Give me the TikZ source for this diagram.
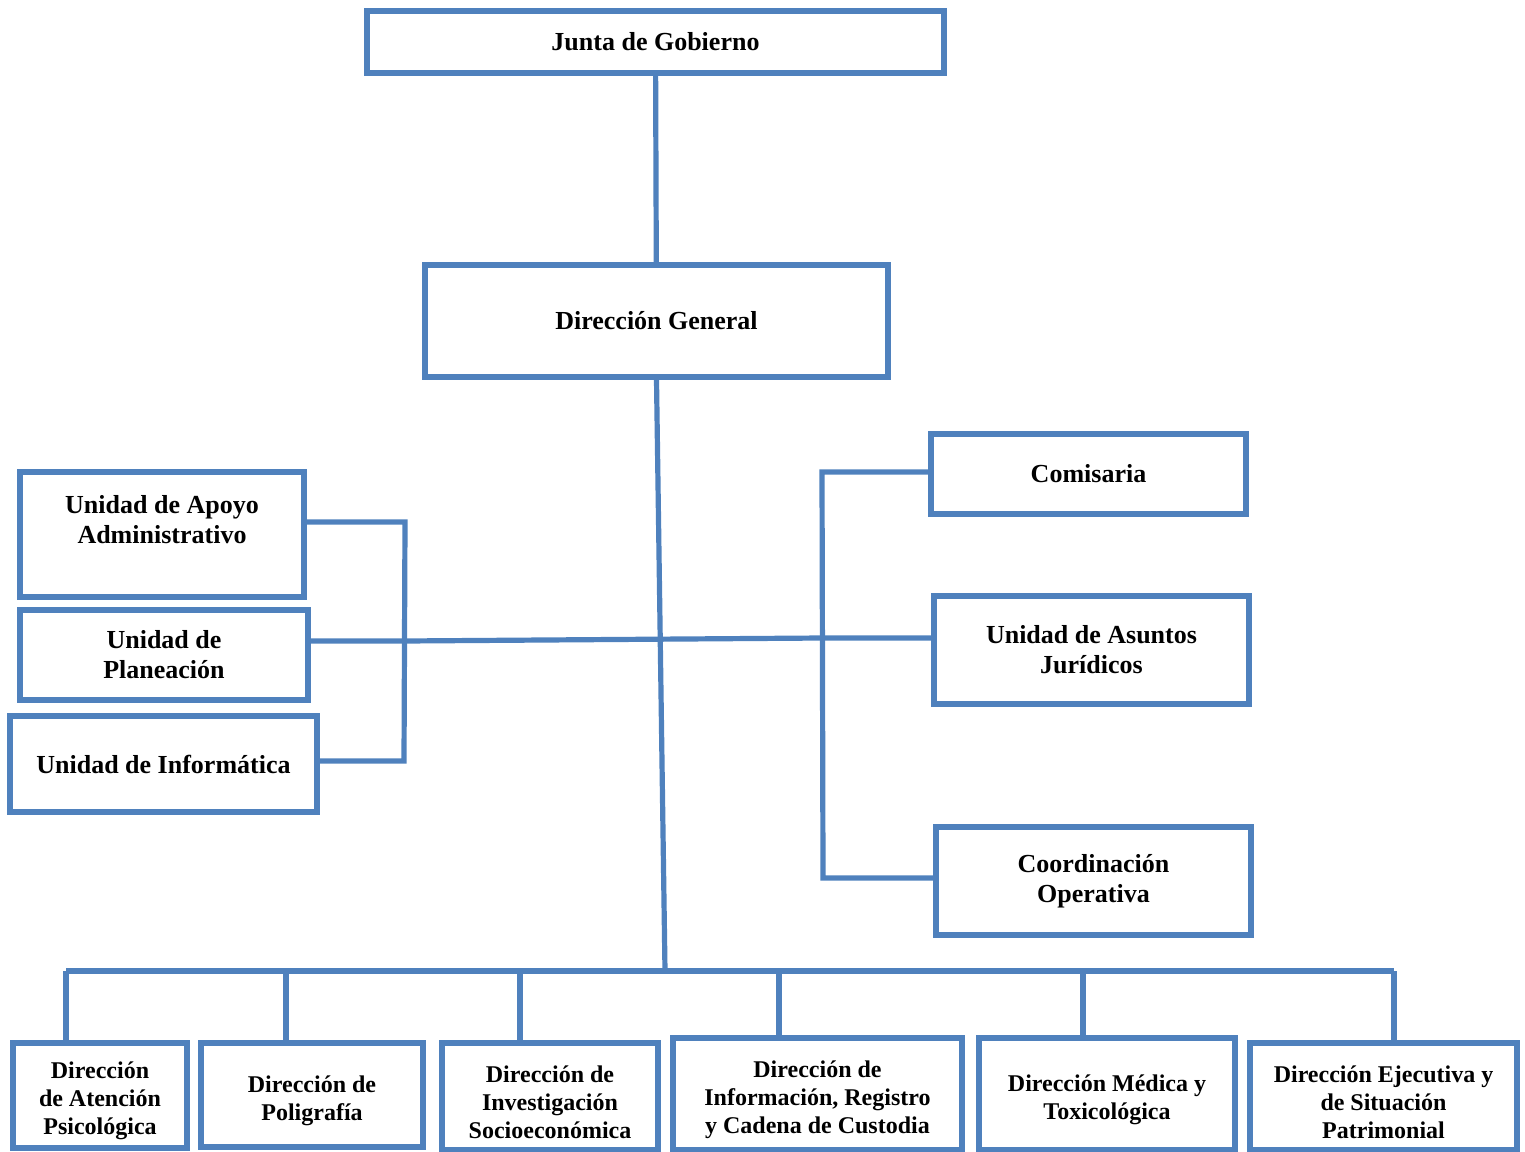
\documentclass[tikz,border=0pt]{standalone}
\usepackage{fontspec}
\setmainfont{Liberation Serif}
\usepackage{xcolor}
\definecolor{azul}{HTML}{4F81BD}
\newcommand{\tope}{\rule{0pt}{14pt}}

\begin{document}
\begin{tikzpicture}[x=0.5pt,y=-0.5pt,
   caja/.style={draw=azul,line width=2.8pt,rectangle,align=center,inner sep=2pt,font=\fontsize{13}{15}\selectfont\bfseries},
   cajab/.style={caja,font=\fontsize{12}{14}\selectfont\bfseries},
   linea/.style={draw=azul,line width=2.6pt}]
   \useasboundingbox (0,0) rectangle (1525,1151);

   \node[caja,minimum width=288.5pt,minimum height=31pt] (junta) at (655.5,42) {Junta de Gobierno};
   \node[caja,minimum width=231.5pt,minimum height=56pt] (dg) at (656.5,321) {Dirección General};

   \node[caja,minimum width=142pt,minimum height=62.5pt] (apoyo) at (162,534.5) {Unidad de Apoyo\\Administrativo\\\mbox{}};
   \node[caja,minimum width=144pt,minimum height=45pt] (planea) at (164,655) {Unidad de\\Planeación};
   \node[caja,minimum width=153.5pt,minimum height=48pt] (info) at (163.5,764) {Unidad de Informática};

   \node[caja,minimum width=157.5pt,minimum height=40pt] (comis) at (1088.5,474) {Comisaria};
   \node[caja,minimum width=157.5pt,minimum height=54pt] (juri) at (1091.5,650) {Unidad de Asuntos\\Jurídicos};
   \node[caja,minimum width=157.5pt,minimum height=54pt] (coord) at (1093.5,881) {Coordinación\\Operativa};

   \node[cajab,minimum width=87pt,minimum height=52.5pt] (b1) at (100,1095.5) {\tope Dirección\\de Atención\\Psicológica};
   \node[cajab,minimum width=111pt,minimum height=52pt] (b2) at (312,1095) {\tope Dirección de\\Poligrafía};
   \node[cajab,minimum width=108pt,minimum height=53.5pt] (b3) at (550,1096.5) {\tope Dirección de\\Investigación\\Socioeconómica};
   \node[cajab,minimum width=144.5pt,minimum height=56pt] (b4) at (817.5,1094) {\tope Dirección de\\Información, Registro\\y Cadena de Custodia};
   \node[cajab,minimum width=128pt,minimum height=56pt] (b5) at (1107,1094) {\tope Dirección Médica y\\Toxicológica};
   \node[cajab,minimum width=133.5pt,minimum height=53.5pt] (b6) at (1383.5,1096.5) {\tope Dirección Ejecutiva y\\de Situación\\Patrimonial};

   \coordinate (izq) at (405,641);
   \coordinate (der) at (822,638);
   \coordinate (ay) at (405,522);
   \coordinate (ib) at (404,761);
   \coordinate (rt) at (822,472);
   \coordinate (rb) at (823,878);
   \coordinate (bus) at (665,971);
   \coordinate (busl) at (66,971);
   \coordinate (busr) at (1394,971);

   \draw[linea] (junta) -- (dg);
   \draw[linea] (dg.south) -- (bus);
   \draw[linea] (planea.east |- izq) -- (izq) -- (der) -- (juri.west |- der);
   \draw[linea] (apoyo.east |- ay) -- (ay) -- (ib) -- (info.east |- ib);
   \draw[linea] (comis.west |- rt) -- (rt) -- (rb) -- (coord.west |- rb);
   \draw[linea] (busl) -- (busr);
   \foreach \b/\x in {b1/66,b2/286,b3/520,b4/779,b5/1083,b6/1394}{
      \coordinate (t\b) at (\x,971);
      \draw[linea] (t\b) -- (\b.north -| t\b);
   }
\end{tikzpicture}
\end{document}
